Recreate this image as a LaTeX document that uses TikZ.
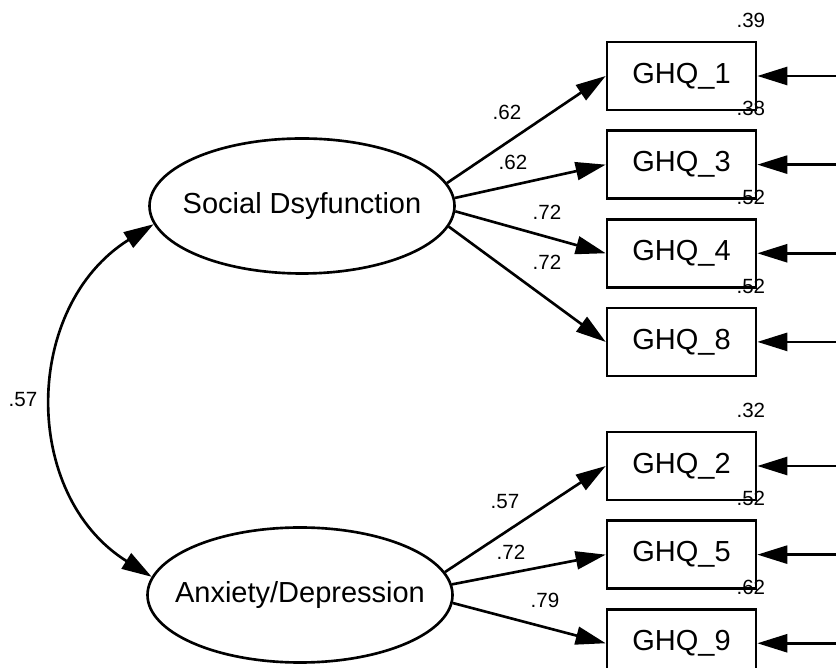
\documentclass[tikz,border=0pt]{standalone}
\usepackage{fontspec}
\setmainfont{Liberation Sans}
\usepackage{tikz}
\usetikzlibrary{shapes,arrows.meta,positioning,calc}

\begin{document}
\begin{tikzpicture}[
    latent/.style={ellipse, draw, line width=1.5pt, minimum width=6.1cm, minimum height=2.7cm,
        inner xsep=-0.5cm, inner ysep=0pt, font=\fontsize{16.5}{18}\selectfont},
    obs/.style={rectangle, draw, line width=1.5pt, minimum width=2.98cm, minimum height=1.36cm,
        inner sep=0pt, font=\fontsize{16.5}{18}\selectfont},
    coef/.style={inner sep=0pt, font=\fontsize{11.7}{13}\selectfont},
    arr/.style={line width=1.5pt, -{Triangle[length=0.6cm, width=0.36cm]}},
    cov/.style={line width=1.5pt, {Triangle[length=0.6cm, width=0.36cm]}-{Triangle[length=0.6cm, width=0.36cm]}}
]
\useasboundingbox (0,0) rectangle (16.72,13.34);

% latent factors
\node[latent] (sd) at (6.04,9.22) {Social Dsyfunction};
\node[latent] (ad) at (6.00,1.44) {Anxiety/Depression};

% indicators
\node[obs] (g1) at (13.63,11.82) {GHQ\_1};
\node[obs, below=0.36cm of g1] (g3) {GHQ\_3};
\node[obs, below=0.36cm of g3] (g4) {GHQ\_4};
\node[obs, below=0.36cm of g4] (g8) {GHQ\_8};
\node[obs] (g2) at (13.63,4.02) {GHQ\_2};
\node[obs, below=0.36cm of g2] (g5) {GHQ\_5};
\node[obs, below=0.36cm of g5] (g9) {GHQ\_9};

% error terms and squared multiple correlations
\foreach \n/\r in {1/.39, 3/.38, 4/.52, 8/.52, 2/.32, 5/.52, 9/.62} {
    \coordinate (e\n) at ([xshift=1.6cm]g\n.east);
    \draw[arr] (e\n) -- (g\n.east);
    \node[coef] (r\n) at ([xshift=-0.13cm, yshift=0.41cm]g\n.north east) {\r};
}

% loadings
\foreach \n/\a in {1/9, 3/3, 4/-2, 8/-8}
    \draw[arr] (sd.\a) -- (g\n.west);
\foreach \n/\a in {2/9, 5/4, 9/-3}
    \draw[arr] (ad.\a) -- (g\n.west);

\foreach \n/\x/\y/\v in {1/10.14/11.10/.62, 3/10.26/10.10/.62, 4/10.94/9.10/.72, 8/10.94/8.10/.72,
                         2/10.10/3.30/.57, 5/10.22/2.30/.72, 9/10.90/1.34/.79}
    \node[coef] (l\n) at (\x,\y) {\v};

% factor covariance
\draw[cov] (sd.187) to[out=212, in=148, looseness=1.12] (ad.173);
\node[coef] (c) at (0.46,5.34) {.57};
\end{tikzpicture}
\end{document}
